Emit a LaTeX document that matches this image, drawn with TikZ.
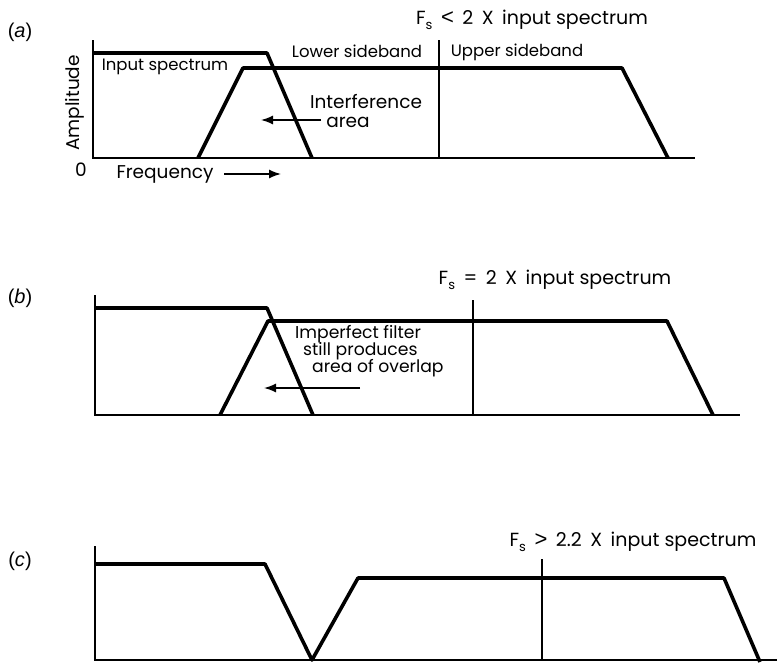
\documentclass[tikz,border=0pt]{standalone}
\usepackage{fontspec}
\setmainfont{Poppins}
\newfontfamily\labfont{Liberation Sans}
\usetikzlibrary{arrows.meta}
\newcommand{\fsub}{F\raisebox{-0.45ex}{\fontsize{13}{14}\selectfont s}}
\newcommand{\gp}{\hspace{0.45em}}
\newcommand{\relsym}[1]{{\labfont\fontsize{22}{22}\selectfont #1}}
\begin{document}
\begin{tikzpicture}[x=1pt,y=-1pt,
  axisline/.style={line width=2pt},
  specline/.style={line width=3.6pt,line join=round},
  sideline/.style={line width=2pt},
  txt/.style={inner sep=0pt,font=\fontsize{16.5}{19}\selectfont},
  bigtxt/.style={inner sep=0pt,font=\fontsize{18.5}{21}\selectfont},
  btxt/.style={inner sep=0pt,font=\fontsize{17.2}{19}\selectfont},
  fstxt/.style={inner sep=0pt,font=\fontsize{19}{22}\selectfont},
  panel/.style={inner sep=0pt,font=\labfont\fontsize{20}{22}\selectfont},
  pointer/.style={line width=1.5pt,-{Latex[length=12pt,width=9pt]}}]
\useasboundingbox (0,0) rectangle (777,662);
\fill[white] (0,0) rectangle (777,662);

% ---------------- (a) ----------------
\node[panel] (la) at (20,32) {(\textit{a})};
\draw[axisline] (93,40) -- (93,158) -- (695,158);
\draw[specline] (93,53) -- (267,53) -- (312,158);
\draw[specline] (198,158) -- (243,68) -- (622,68) -- (668,158);
\draw[sideline] (439,40) -- (439,158);
\node[txt] (ain) at (165,67) {Input spectrum};
\node[bigtxt,rotate=90] (aamp) at (75,103) {Amplitude};
\node[bigtxt] (azero) at (81,170) {0};
\node[bigtxt] (afreq) at (165,174) {Frequency};
\coordinate (afs) at (224,174);
\coordinate (afe) at (281,174);
\draw[pointer] (afs) -- (afe);
\node[txt] (alow) at (357,51) {Lower sideband};
\node[txt] (aup) at (517,52) {Upper sideband};
\node[bigtxt] (aint) at (366,102) {Interference};
\node[bigtxt] (aarea) at (348,122) {area};
\coordinate (aas) at (321,120);
\coordinate (aae) at (261,120);
\draw[pointer] (aas) -- (aae);
\node[fstxt] (afsl) at (532,20) {\fsub\gp\relsym{<}\gp 2\gp X\gp input spectrum};

% ---------------- (b) ----------------
\node[panel] (lb) at (20,298) {(\textit{b})};
\draw[axisline] (95,295) -- (95,415) -- (740,415);
\draw[specline] (95,308) -- (267,308) -- (313,415);
\draw[specline] (220,415) -- (268,321) -- (667,321) -- (713,415);
\draw[sideline] (473,300) -- (473,415);
\node[btxt,anchor=west] (bt1) at (295,334) {Imperfect filter};
\node[btxt,anchor=west] (bt2) at (303,351) {still produces};
\node[btxt,anchor=west] (bt3) at (312,368) {area of overlap};
\coordinate (bas) at (360,388);
\coordinate (bae) at (264,388);
\draw[pointer] (bas) -- (bae);
\node[fstxt] (bfsl) at (555,280) {\fsub\gp=\gp 2\gp X\gp input spectrum};

% ---------------- (c) ----------------
\node[panel] (lc) at (20,561) {(\textit{c})};
\draw[axisline] (95,546) -- (95,660) -- (777,660);
\draw[specline] (95,564) -- (265,564) -- (312,660) -- (358,578) -- (724,578) -- (760,662);
\draw[sideline] (542,559) -- (542,660);
\node[fstxt] (cfsl) at (633,542) {\fsub\gp\relsym{>}\gp 2.2\gp X\gp input spectrum};
\end{tikzpicture}
\end{document}
